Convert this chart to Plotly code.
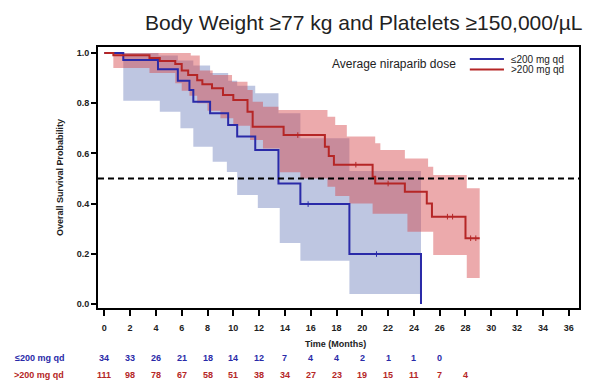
import plotly.graph_objects as go

# ---------------- data ----------------
blue_t = [0, 1.47, 4.16, 5.7, 6.6, 6.9, 8.2, 9.6, 10.3, 11.7, 13.5, 15.2, 19.0, 24.55]
blue_s = [1.0, 0.972, 0.935, 0.89, 0.853, 0.806, 0.76, 0.713, 0.667, 0.614, 0.48, 0.398, 0.199, 0.0]
blue_lo_t = [0, 1.47, 4.3, 5.9, 6.9, 8.4, 9.5, 10.3, 11.9, 13.6, 15.2, 19.0, 24.55]
blue_lo = [1.0, 0.81, 0.766, 0.70, 0.627, 0.567, 0.526, 0.434, 0.382, 0.243, 0.172, 0.04, 0.04]
blue_hi_t = [0, 4.2, 5.7, 6.9, 8.2, 9.6, 10.3, 11.7, 13.5, 15.2, 19.0, 24.55]
blue_hi = [1.0, 0.99, 0.97, 0.95, 0.92, 0.89, 0.87, 0.84, 0.76, 0.66, 0.53, 0.53]
blue_cens_t = [15.8, 21.1]
blue_cens_s = [0.398, 0.199]

red_t = [0, 0.7, 3.5, 4.3, 5.5, 6.0, 6.5, 7.2, 7.6, 8.35, 9.2, 10.0, 11.1, 11.5, 13.9,
         17.1, 17.4, 17.8, 20.8, 21.0, 23.3, 25.0, 25.4, 28.0, 29.1]
red_s = [1.0, 0.991, 0.98, 0.968, 0.956, 0.93, 0.912, 0.892, 0.876, 0.86, 0.833, 0.813, 0.766, 0.706, 0.673,
         0.627, 0.59, 0.555, 0.507, 0.48, 0.447, 0.40, 0.348, 0.262, 0.262]
red_hi_t = [0, 6.7, 7.4, 8.4, 9.9, 11.1, 11.5, 12.3, 13.5, 17.3, 17.9, 18.8, 21.0, 21.4, 23.3, 25.1, 25.5, 28.1, 29.1]
red_hi = [1.0, 0.99, 0.93, 0.912, 0.886, 0.853, 0.806, 0.786, 0.773, 0.746, 0.713, 0.667, 0.64, 0.614, 0.58,
          0.547, 0.514, 0.461, 0.461]
red_lo_t = [0, 0.7, 3.5, 5.5, 6.0, 6.6, 7.2, 8.0, 9.0, 10.0, 11.3, 12.3, 13.6, 15.2, 17.3, 17.9, 19.0,
            20.8, 23.5, 25.5, 28.1, 29.1]
red_lo = [1.0, 0.94, 0.92, 0.88, 0.85, 0.83, 0.80, 0.77, 0.74, 0.71, 0.653, 0.62, 0.525, 0.50, 0.467, 0.43, 0.40,
          0.36, 0.288, 0.195, 0.104, 0.104]
red_cens_t = [15.0, 19.5, 22.0, 26.6, 27.0, 28.4, 28.8]
red_cens_s = [0.673, 0.555, 0.48, 0.348, 0.348, 0.262, 0.262]

risk_months = [0, 2, 4, 6, 8, 10, 12, 14, 16, 18, 20, 22, 24, 26, 28]
risk_low = [34, 33, 26, 21, 18, 14, 12, 7, 4, 4, 2, 1, 1, 0]
risk_high = [111, 98, 78, 67, 58, 51, 38, 34, 27, 23, 19, 15, 11, 7, 4]
x_ticks = list(range(0, 37, 2))
y_ticks = [0.0, 0.2, 0.4, 0.6, 0.8, 1.0]
series_names = ["≤200 mg qd", ">200 mg qd"]

BLUE = "#2a2aa8"
RED = "#b52626"
BLUE_FILL = "rgba(111,128,188,0.45)"
RED_FILL = "rgba(213,66,71,0.45)"
FONT = "Liberation Sans, Arial, sans-serif"
TXT = "#222222"

fig = go.Figure()

# confidence bands
fig.add_trace(go.Scatter(x=blue_lo_t, y=blue_lo, mode="lines", line=dict(width=0, shape="hv"),
                         showlegend=False, hoverinfo="skip"))
fig.add_trace(go.Scatter(x=blue_hi_t, y=blue_hi, mode="lines", line=dict(width=0, shape="hv"),
                         fill="tonexty", fillcolor=BLUE_FILL, showlegend=False, hoverinfo="skip"))
fig.add_trace(go.Scatter(x=red_lo_t, y=red_lo, mode="lines", line=dict(width=0, shape="hv"),
                         showlegend=False, hoverinfo="skip"))
fig.add_trace(go.Scatter(x=red_hi_t, y=red_hi, mode="lines", line=dict(width=0, shape="hv"),
                         fill="tonexty", fillcolor=RED_FILL, showlegend=False, hoverinfo="skip"))

# 0.5 reference
fig.add_hline(y=0.5, line=dict(color="black", width=2, dash="6px,4px"))

# KM curves
fig.add_trace(go.Scatter(x=blue_t, y=blue_s, mode="lines", line=dict(color=BLUE, width=2, shape="hv"),
                         name=series_names[0], showlegend=False))
fig.add_trace(go.Scatter(x=red_t, y=red_s, mode="lines", line=dict(color=RED, width=2, shape="hv"),
                         name=series_names[1], showlegend=False))
fig.add_trace(go.Scatter(x=blue_cens_t, y=blue_cens_s, mode="markers",
                         marker=dict(symbol="line-ns", size=4, line=dict(color=BLUE, width=1)),
                         showlegend=False, hoverinfo="skip"))
fig.add_trace(go.Scatter(x=red_cens_t, y=red_cens_s, mode="markers",
                         marker=dict(symbol="line-ns", size=4, line=dict(color=RED, width=1)),
                         showlegend=False, hoverinfo="skip"))

# legend (drawn manually to match compact layout)
fig.add_annotation(text="Average niraparib dose", xref="paper", yref="paper", x=0.748, y=0.936,
                   xanchor="right", yanchor="middle", showarrow=False,
                   font=dict(family=FONT, size=12, color=TXT))
for name, col, yy in [(series_names[0], BLUE, 0.954), (series_names[1], RED, 0.914)]:
    fig.add_shape(type="line", xref="paper", yref="paper", x0=0.773, x1=0.844, y0=yy, y1=yy,
                  line=dict(color=col, width=2))
    fig.add_annotation(text=name, xref="paper", yref="paper", x=0.854, y=yy,
                       xanchor="left", yanchor="middle", showarrow=False,
                       font=dict(family=FONT, size=10, color=TXT))

# title
fig.add_annotation(text="Body Weight ≥77 kg and Platelets ≥150,000/µL", xref="paper", yref="paper",
                   x=0.553, y=1.0, yshift=25, xanchor="center", yanchor="middle", showarrow=False,
                   font=dict(family=FONT, size=21, color=TXT))

# axis title
fig.add_annotation(text="<b>Time (Months)</b>", xref="paper", yref="paper", x=0.493, y=-0.138,
                   xanchor="center", yanchor="middle", showarrow=False,
                   font=dict(family=FONT, size=9, color=TXT))

# number-at-risk table
fig.add_annotation(text="<b>≤200 mg qd</b>", xref="paper", yref="paper", x=-0.066, y=-0.19,
                   xanchor="right", yanchor="middle", showarrow=False,
                   font=dict(family=FONT, size=9, color=BLUE))
fig.add_annotation(text="<b>>200 mg qd</b>", xref="paper", yref="paper", x=-0.066, y=-0.257,
                   xanchor="right", yanchor="middle", showarrow=False,
                   font=dict(family=FONT, size=9, color=RED))
for m, v in zip(risk_months, risk_low):
    fig.add_annotation(text=f"<b>{v}</b>", xref="x", yref="paper", x=m, y=-0.19,
                       xanchor="center", yanchor="middle", showarrow=False,
                       font=dict(family=FONT, size=9, color=BLUE))
for m, v in zip(risk_months, risk_high):
    fig.add_annotation(text=f"<b>{v}</b>", xref="x", yref="paper", x=m, y=-0.257,
                       xanchor="center", yanchor="middle", showarrow=False,
                       font=dict(family=FONT, size=9, color=RED))

# page body has an 8px margin: the figure is sized/offset to compensate
fig.update_layout(
    width=592, height=372,
    margin=dict(l=90, r=21, t=39, b=72),
    paper_bgcolor="white", plot_bgcolor="white",
    font=dict(family=FONT, size=9, color=TXT),
    showlegend=False,
)
fig.update_xaxes(range=[-0.49, 36.8], tickvals=x_ticks, ticktext=[f"<b>{t}</b>" for t in x_ticks],
                 showgrid=False, zeroline=False, showline=True, linecolor="black", linewidth=2,
                 mirror=True, ticks="outside", ticklen=6, tickwidth=1.5, tickcolor="black",
                 ticklabelstandoff=4,
                 tickfont=dict(family=FONT, size=9, color=TXT))
fig.update_yaxes(range=[-0.016, 1.024], tickvals=y_ticks, ticktext=[f"<b>{t:.1f}</b>" for t in y_ticks],
                 showgrid=False, zeroline=False, showline=True, linecolor="black", linewidth=2,
                 mirror=True, ticks="outside", ticklen=5, tickwidth=1.5, tickcolor="black",
                 tickfont=dict(family=FONT, size=9, color=TXT),
                 title=dict(text="<b>Overall Survival Probability</b>", standoff=12,
                            font=dict(family=FONT, size=9, color=TXT)))

fig.write_html("out.html")
